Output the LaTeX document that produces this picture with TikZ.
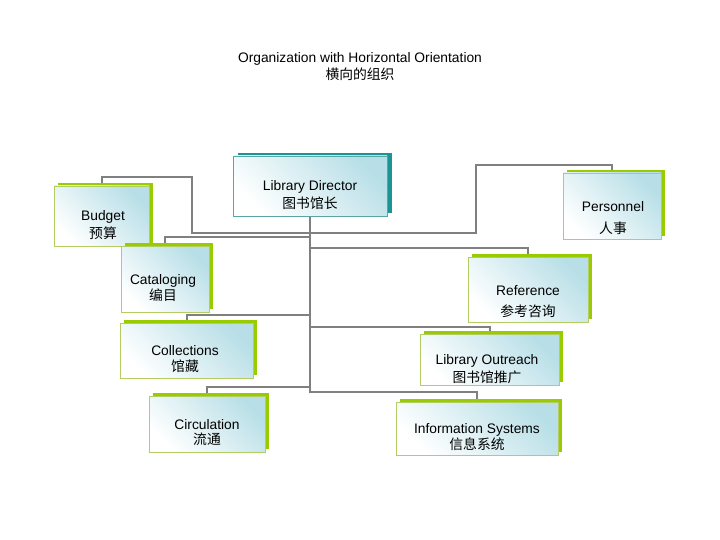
\documentclass[tikz,border=0pt]{standalone}
\usepackage{fontspec}
\setmainfont{Liberation Sans}
\newfontfamily\cjk{Noto Sans CJK SC}
\usepackage{tikz}
\usetikzlibrary{positioning, calc, shadows, backgrounds}
\usepackage{xcolor}
\definecolor{limeshadow}{RGB}{153, 204, 0}
\definecolor{limeedge}{RGB}{180, 204, 100}
\definecolor{tealshadow}{RGB}{26, 148, 148}
\definecolor{tealedge}{RGB}{90, 165, 165}
\definecolor{boxtint}{RGB}{184, 223, 231}
\definecolor{linkgray}{RGB}{128, 128, 128}

\begin{document}
\begin{tikzpicture}[x=1pt, y=-1pt,
    unit/.style={rectangle, draw=limeedge, line width=0.6pt, top color=boxtint, bottom color=white, shading angle=-45, inner sep=0pt,
        drop shadow={shadow xshift=4pt, shadow yshift=3pt, fill=limeshadow, opacity=1}},
    head/.style={rectangle, draw=tealedge, line width=0.6pt, top color=boxtint, bottom color=white, shading angle=-45, inner sep=0pt,
        drop shadow={shadow xshift=5pt, shadow yshift=3pt, fill=tealshadow, opacity=1}},
    txt/.style={align=center, inner sep=0pt, font=\fontsize{13.8}{18}\selectfont},
    link/.style={draw=linkgray, line width=2pt}
]
    \useasboundingbox (0,0) rectangle (720,540);

    % Title
    \node[txt] (title) at (360,67) {Organization with Horizontal Orientation\\[-1pt]{\cjk 横向的组织}};

    % Boxes
    \node[head, minimum width=154pt, minimum height=60pt] (dir) at (310,186) {};
    \node[unit, minimum width=95pt, minimum height=60pt] (bud) at (101.5,216) {};
    \node[unit, minimum width=98pt, minimum height=66pt] (per) at (612,206) {};
    \node[unit, minimum width=88pt, minimum height=66pt] (cat) at (165,279) {};
    \node[unit, minimum width=120pt, minimum height=65pt] (ref) at (528,289.5) {};
    \node[unit, minimum width=133pt, minimum height=55pt] (col) at (186.5,350.5) {};
    \node[unit, minimum width=139pt, minimum height=51pt] (out) at (489.5,359.5) {};
    \node[unit, minimum width=116pt, minimum height=56pt] (cir) at (207,424) {};
    \node[unit, minimum width=162pt, minimum height=53pt] (info) at (477,428.5) {};

    % Labels
    \node[txt] (dir-t) at (310,195.5) {Library Director\\{\cjk 图书馆长}};
    \node[txt] (bud-t) at (103,225.5) {Budget\\{\cjk 预算}};
    \node[txt] (per-t) at (613,218.5) {Personnel\\[4pt]{\cjk 人事}};
    \node[txt] (cat-t) at (163,288.5) {Cataloging\\[-2pt]{\cjk 编目}};
    \node[txt] (ref-t) at (528,302) {Reference\\[3pt]{\cjk 参考咨询}};
    \node[txt] (col-t) at (185,359.5) {Collections\\[-2pt]{\cjk 馆藏}};
    \node[txt] (out-t) at (487,369.5) {Library Outreach\\{\cjk 图书馆推广}};
    \node[txt] (cir-t) at (207,433) {Circulation\\[-3pt]{\cjk 流通}};
    \node[txt] (info-t) at (477,437.5) {Information Systems\\[-2pt]{\cjk 信息系统}};

    % Connectors
    \begin{scope}[on background layer]
        \draw[link] (bud.north) |- (192,177) |- (476,233) |- (per.north |- 0,165) -- (per.north);
        \draw[link] (dir.south) |- (info.north |- 0,392) -- (info.north);
        \draw[link] (dir.south |- 0,237) -| (cat.north);
        \draw[link] (dir.south |- 0,248) -| (ref.north);
        \draw[link] (dir.south |- 0,315) -| (col.north);
        \draw[link] (dir.south |- 0,327) -| (out.north);
        \draw[link] (dir.south |- 0,387) -| (cir.north);
    \end{scope}
\end{tikzpicture}
\end{document}
